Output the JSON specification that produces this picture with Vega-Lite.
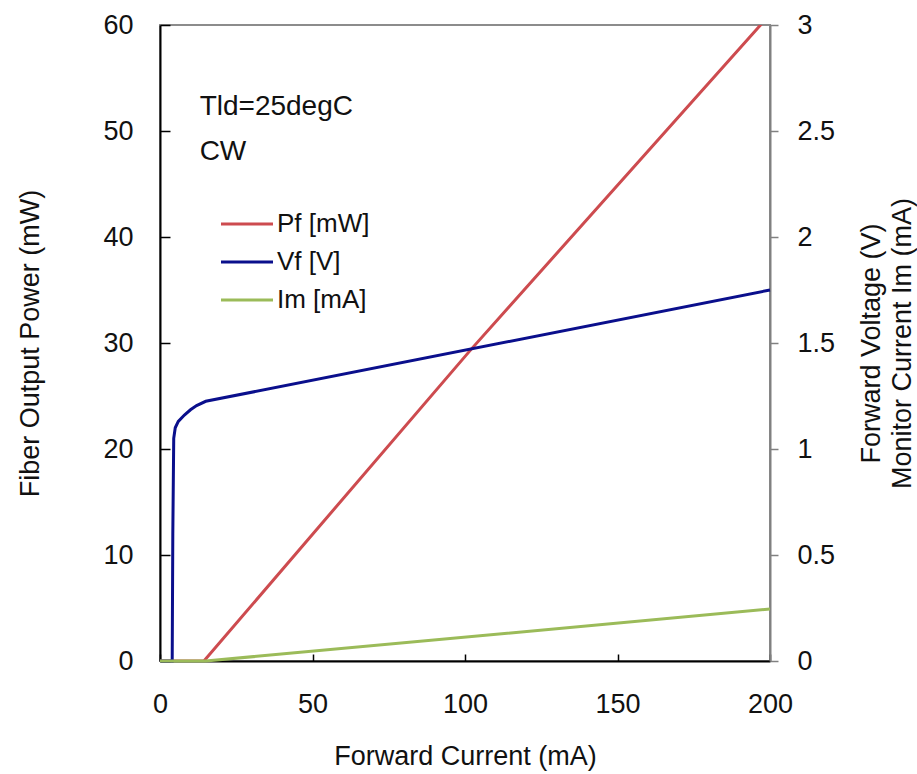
{
  "$schema": "https://vega.github.io/schema/vega-lite/v6.json",
  "width": 610,
  "height": 636,
  "autosize": {"type": "none"},
  "padding": {"left": 160, "top": 25, "right": 147, "bottom": 113},
  "background": "white",
  "config": {
    "font": "Liberation Sans",
    "view": {"stroke": "#8c8c8c", "strokeWidth": 2},
    "axis": {"labelFont": "Liberation Sans", "titleFont": "Liberation Sans", "labelFontSize": 27, "titleFontSize": 27, "titleFontWeight": "normal", "labelColor": "#111", "titleColor": "#111", "grid": false, "domainWidth": 2, "tickWidth": 1.5, "labelFlush": false, "labelOverlap": false}
  },
  "data": {
    "values": [
      {"I": 0, "value": 0, "series": "Pf [mW]"},
      {"I": 14.4, "value": 0, "series": "Pf [mW]"},
      {"I": 102, "value": 29.4, "series": "Pf [mW]"},
      {"I": 200, "value": 61, "series": "Pf [mW]"},
      {"I": 0, "value": 0, "series": "Vf [V]"},
      {"I": 4, "value": 0, "series": "Vf [V]"},
      {"I": 4.2, "value": 0.6, "series": "Vf [V]"},
      {"I": 4.5, "value": 1.05, "series": "Vf [V]"},
      {"I": 5, "value": 1.1, "series": "Vf [V]"},
      {"I": 6, "value": 1.13, "series": "Vf [V]"},
      {"I": 8, "value": 1.16, "series": "Vf [V]"},
      {"I": 10, "value": 1.185, "series": "Vf [V]"},
      {"I": 12, "value": 1.205, "series": "Vf [V]"},
      {"I": 15, "value": 1.225, "series": "Vf [V]"},
      {"I": 200, "value": 1.75, "series": "Vf [V]"},
      {"I": 0, "value": 0, "series": "Im [mA]"},
      {"I": 15, "value": 0, "series": "Im [mA]"},
      {"I": 200, "value": 0.245, "series": "Im [mA]"}
    ]
  },
  "layer": [
    {
      "layer": [
        {
          "transform": [{"filter": "datum.series === 'Pf [mW]'"}],
          "mark": {"type": "line", "strokeWidth": 3, "clip": true},
          "encoding": {
            "x": {"field": "I", "type": "quantitative", "scale": {"domain": [0, 200]},
              "axis": {"title": "Forward Current  (mA)", "values": [0, 50, 100, 150, 200], "tickSize": -7, "labelPadding": 37, "titlePadding": 26, "domainColor": "#000", "tickColor": "#000"}},
            "y": {"field": "value", "type": "quantitative", "scale": {"domain": [0, 60]},
              "axis": {"title": "Fiber Output Power  (mW)", "values": [0, 10, 20, 30, 40, 50, 60], "tickSize": -10, "labelPadding": 37, "titlePadding": 58, "domainColor": "#000", "tickColor": "#000"}},
            "color": {"field": "series", "type": "nominal",
              "scale": {"domain": ["Pf [mW]", "Vf [V]", "Im [mA]"], "range": ["#cd4b4f", "#0a0f8c", "#9bbb59"]},
              "legend": {"title": null, "orient": "none", "legendX": 74, "legendY": 186, "padding": 0,
                "symbolType": "M-2.6,0H2.6", "symbolSize": 400, "symbolStrokeWidth": 3,
                "labelFont": "Liberation Sans", "labelFontSize": 26, "labelColor": "#111", "labelOffset": 17, "rowPadding": 12}}
          }
        },
        {
          "data": {"values": [{}]},
          "mark": {"type": "text", "text": "Tld=25degC", "align": "left", "baseline": "middle", "fontSize": 28, "font": "Liberation Sans", "color": "#111"},
          "encoding": {"x": {"datum": 13}, "y": {"datum": 52.3}}
        },
        {
          "data": {"values": [{}]},
          "mark": {"type": "text", "text": "CW", "align": "left", "baseline": "middle", "fontSize": 28, "font": "Liberation Sans", "color": "#111"},
          "encoding": {"x": {"datum": 13}, "y": {"datum": 48.0}}
        }
      ]
    },
    {
      "transform": [{"filter": "datum.series !== 'Pf [mW]'"}],
      "mark": {"type": "line", "strokeWidth": 3},
      "encoding": {
        "x": {"field": "I", "type": "quantitative"},
        "y": {"field": "value", "type": "quantitative", "scale": {"domain": [0, 3]},
          "axis": {"orient": "right", "title": ["Forward Voltage  (V)", "Monitor Current Im (mA)"], "titleAngle": 270, "values": [0, 0.5, 1, 1.5, 2, 2.5, 3], "format": "~g", "tickSize": 8, "labelPadding": 19, "titlePadding": 20, "domainColor": "#808080", "tickColor": "#808080", "titleLineHeight": 31}},
        "color": {"field": "series", "type": "nominal"}
      }
    }
  ],
  "resolve": {"scale": {"y": "independent"}}
}
